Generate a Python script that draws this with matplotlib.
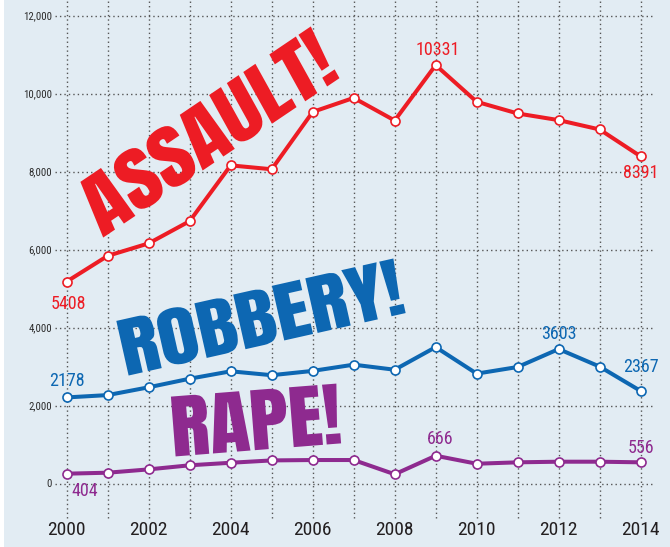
import matplotlib
matplotlib.use("Agg")
import matplotlib.pyplot as plt
from matplotlib import font_manager
from matplotlib.font_manager import FontProperties
from matplotlib.textpath import TextPath
from matplotlib.patches import PathPatch
from matplotlib.transforms import Affine2D

# years and values as they sit on the chart
years = list(range(2000, 2015))
assault = [5190, 5850, 6170, 6740, 8170, 8070, 9540, 9900, 9320, 10740, 9800, 9500, 9330, 9090, 8400]
robbery = [2220, 2280, 2480, 2700, 2890, 2790, 2900, 3060, 2930, 3510, 2830, 3000, 3460, 3010, 2385]
rape = [265, 290, 375, 480, 545, 605, 615, 615, 250, 725, 520, 556, 572, 572, 556]

# callouts: (text, year, value)
assault_notes = [("5408", 2000.05, 4620), ("10331", 2009.05, 11130), ("8391", 2014.0, 7980)]
robbery_notes = [("2178", 2000.0, 2640), ("3603", 2012.0, 3850), ("2367", 2014.0, 3000)]
rape_notes = [("404", 2000.45, -180), ("666", 2009.1, 1150), ("556", 2014.0, 920)]

y_ticks = [0, 2000, 4000, 6000, 8000, 10000, 12000]
x_labels = list(range(2000, 2015, 2))

red = "#ED1C24"
blue = "#0D67B2"
purple = "#8E2A8F"
bg = "#E2ECF3"

have = set(f.name for f in font_manager.fontManager.ttflist)


def pick(*names):
    for n in names:
        if n in have:
            return [n, "DejaVu Sans"]
    return ["DejaVu Sans"]


narrow = pick("Roboto Condensed", "PT Sans Narrow", "Fira Sans Condensed", "Archivo Narrow",
              "Liberation Sans Narrow")
stamp = pick("Anton", "Bebas Neue", "Oswald", "League Gothic", "Fjalla One")

W, H = 670, 547
fig = plt.figure(figsize=(W / 100, H / 100), dpi=100, facecolor="white")
ax = fig.add_axes([4 / W, 0, (W - 4) / W, 1])
ax.set_facecolor(bg)
ax.set_xlim(1998.471, 2014.715)
ax.set_ylim(-1615, 12410)
for s in ax.spines.values():
    s.set_visible(False)
ax.set_xticks([])
ax.set_yticks([])

# dotted grid
ax.hlines(y_ticks, 51 / 666, 649 / 666, transform=ax.get_yaxis_transform(),
          colors="#555555", linestyles=(0, (1, 2.2)), linewidth=1.0, zorder=1)
ax.vlines(years, 1 - 518 / H, 1, transform=ax.get_xaxis_transform(),
          colors="#555555", linestyles=(0, (1, 2.2)), linewidth=1.0, zorder=1)

for v in y_ticks:
    ax.text(48 / 666, v, f"{v:,}", transform=ax.get_yaxis_transform(), ha="right",
            va="center", fontsize=7.8, color="#2b2b2b", family=narrow)
for yr in x_labels:
    ax.text(yr, 1 - 530 / H, str(yr), transform=ax.get_xaxis_transform(), ha="center",
            va="center", fontsize=14, color="#231F20", family=narrow)


# big stamp words, fitted to a box (pixels): centre x, centre y (from top), length, height, angle
def stamp_word(word, cx, cy, length, height, angle, color, lean=0):
    tp = TextPath((0, 0), word, size=100, prop=FontProperties(family=stamp))
    bb = tp.get_extents()
    tr = (Affine2D()
          .translate(-(bb.x0 + bb.width / 2), -(bb.y0 + bb.height / 2))
          .scale(length / bb.width, height / bb.height)
          .skew_deg(lean, 0)
          .rotate_deg(angle)
          .translate(cx, H - cy))
    ax.add_patch(PathPatch(tp, transform=tr, facecolor=color, edgecolor="none", zorder=2))


stamp_word("ASSAULT!", 207, 132, 285, 60, 34, red, lean=5)
stamp_word("ROBBERY!", 261, 317, 284, 57, 12.7, blue)
stamp_word("RAPE!", 256, 420, 166, 60, 4.5, purple)

for vals, col, notes in [(assault, red, assault_notes), (robbery, blue, robbery_notes),
                         (rape, purple, rape_notes)]:
    ax.plot(years, vals, color=col, linewidth=2.9, marker="o", markersize=6.5,
            markerfacecolor="white", markeredgecolor=col, markeredgewidth=1.2, zorder=4)
    for txt, x, y in notes:
        ax.text(x, y, txt, ha="center", va="center", fontsize=13, color=col,
                family=narrow, zorder=5)

plt.savefig("out.png", dpi=100, facecolor=fig.get_facecolor())
